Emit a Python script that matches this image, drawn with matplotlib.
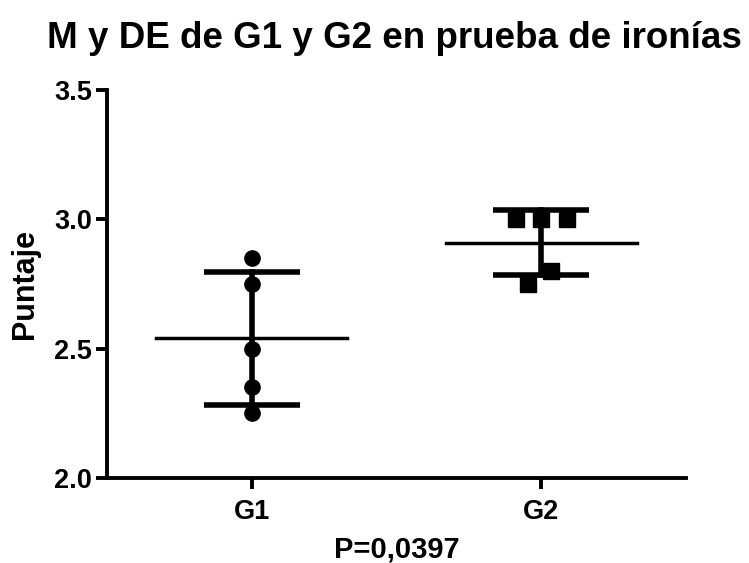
import matplotlib
matplotlib.use("Agg")
import matplotlib.pyplot as plt
import numpy as np

plt.rcParams['font.family'] = ['Liberation Sans', 'DejaVu Sans']
plt.rcParams['font.weight'] = 'bold'

groups = ["G1", "G2"]
g1_scores = [2.85, 2.75, 2.50, 2.35, 2.25]
g2_scores = [3.00, 3.00, 3.00, 2.80, 2.75]
p_label = "P=0,0397"

# horizontal spread so overlapping squares stay visible
g2_spread = [-0.087, 0.0, 0.087, 0.035, -0.045]

fig = plt.figure(figsize=(7.49, 5.63), dpi=100)
ax = fig.add_axes([0.143, 0.151, 0.773, 0.689])

for i, (vals, mk) in enumerate([(g1_scores, 'o'), (g2_scores, 's')]):
    vals = np.array(vals)
    m = vals.mean()
    sd = vals.std(ddof=1)
    if mk == 'o':
        xs = np.full(len(vals), i, dtype=float)
    else:
        xs = i + np.array(g2_spread)
    ax.plot(xs, vals, linestyle='none', marker=mk, color='black',
            markersize=11, zorder=3)
    # mean and SD bars
    ax.plot([i - 0.33, i + 0.33], [m, m], color='black', lw=2.5, zorder=2)
    ax.plot([i, i], [m - sd, m + sd], color='black', lw=4, zorder=2)
    for y in (m - sd, m + sd):
        ax.plot([i - 0.166, i + 0.166], [y, y], color='black', lw=4,
                solid_capstyle='butt', zorder=2)

ax.set_xlim(-0.5, 1.5)
ax.set_ylim(2.0, 3.5)
ax.set_xticks([0, 1])
ax.set_xticklabels(groups)
ax.set_yticks([2.0, 2.5, 3.0, 3.5])
ax.set_yticklabels(["2.0", "2.5", "3.0", "3.5"])

for s in ('top', 'right'):
    ax.spines[s].set_visible(False)
for s in ('left', 'bottom'):
    ax.spines[s].set_linewidth(2.8)
ax.tick_params(axis='both', width=2.8, length=8, labelsize=19.5, pad=3)
ax.tick_params(axis='x', pad=7)

ax.set_ylabel("Puntaje", fontsize=22, fontweight='bold', labelpad=10)
ax.set_xlabel(p_label, fontsize=21, fontweight='bold', labelpad=8)
fig.suptitle("M y DE de G1 y G2 en prueba de ironías", x=0.526, y=0.962,
             fontsize=26.5, fontweight='bold')

fig.savefig("out.png", dpi=100, facecolor='white')
